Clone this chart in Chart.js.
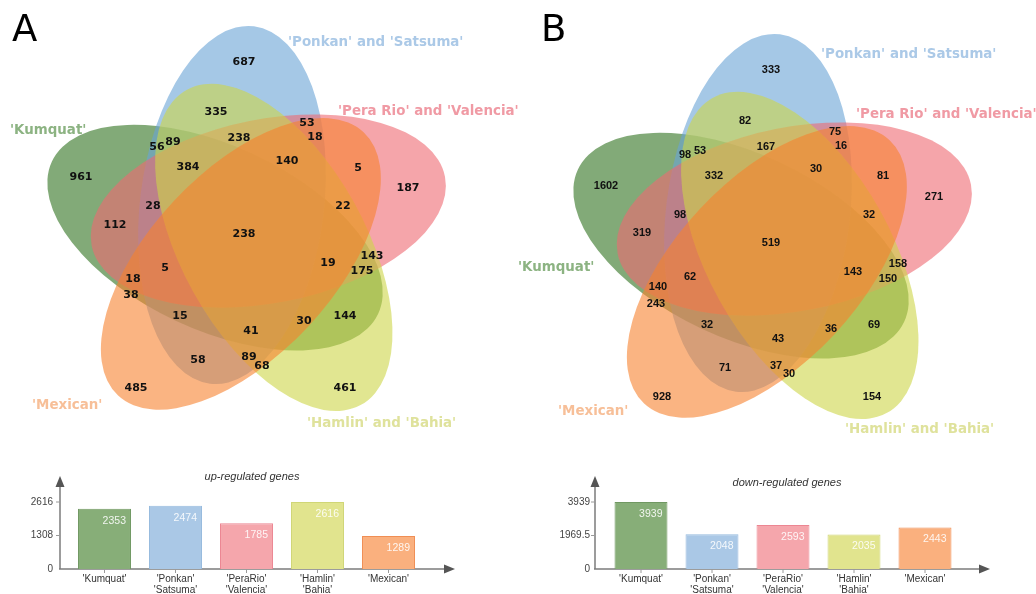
<!DOCTYPE html>
<html><head><meta charset="utf-8">
<script src="https://cdn.jsdelivr.net/npm/chart.js@4.4.1/dist/chart.umd.min.js"></script>
<style>
html,body{margin:0;padding:0;background:#fff;width:1036px;height:594px;overflow:hidden;}
canvas{position:absolute;display:block;}
#venn{left:0;top:0;}
#barA{left:0;top:455px;}
#barB{left:518px;top:455px;}
</style></head><body>
<canvas id="venn" width="1036" height="455" style="width:1036px;height:455px"></canvas>
<canvas id="barA" width="518" height="139" style="width:518px;height:139px"></canvas>
<canvas id="barB" width="518" height="139" style="width:518px;height:139px"></canvas>
<script>
// ---------------- DATA ----------------
const setNames = ["'Kumquat'", "'Ponkan' and 'Satsuma'", "'Pera Rio' and 'Valencia'", "'Hamlin' and 'Bahia'", "'Mexican'"];
const barCategories = [["'Kumquat'"], ["'Ponkan'", "'Satsuma'"], ["'PeraRio'", "'Valencia'"], ["'Hamlin'", "'Bahia'"], ["'Mexican'"]];
const upTotals = [2353, 2474, 1785, 2616, 1289];
const downTotals = [3939, 2048, 2593, 2035, 2443];
const upTicks = [0, 1308, 2616];
const downTicks = [0, 1969.5, 3939];
// Venn region counts (same region order in both panels)
const upRegionCounts = [687, 335, 53, 18, 56, 89, 238, 384, 140, 5, 961, 187, 28, 22, 112, 238, 143, 19, 175, 5, 18, 38, 15, 41, 30, 144, 58, 89, 68, 485, 461];
const downRegionCounts = [333, 82, 75, 16, 98, 53, 167, 30, 332, 81, 1602, 271, 98, 32, 319, 519, 158, 143, 150, 62, 140, 243, 32, 36, 69, 43, 71, 37, 30, 928, 154];

// ---------------- LAYOUT ----------------
const upRegionPos = [[244,62],[216,112],[307,123],[315,137],[157,147],[173,142],[239,138],[188,167],[287,161],[358,168],[81,177],[408,188],[153,206],[343,206],[115,225],[244,234],[372,256],[328,263],[362,271],[165,268],[133,279],[131,295],[180,316],[251,331],[304,321],[345,316],[198,360],[249,357],[262,366],[136,388],[345,388]];
const downRegionPos = [[771,70],[745,121],[835,132],[841,146],[685,155],[700,151],[766,147],[816,169],[714,176],[883,176],[606,186],[934,197],[680,215],[869,215],[642,233],[771,243],[898,264],[853,272],[888,279],[690,277],[658,287],[656,304],[707,325],[831,329],[874,325],[778,339],[725,368],[776,366],[789,374],[662,397],[872,397]];
const setLabelPos = [
  [[10,131],[288,43],[338,112],[307,424],[32,406]],
  [[518,268],[821,55],[856,115],[845,430],[558,412]]
];
const panelCenters = [[246,233],[772,241]];
const vennGeom = { a: 180, b: 92, baseAngle: -83, offset: [-14, -28] };
const rotIndex = [4, 0, 1, 2, 3]; // rotation step (x72deg) of each set's ellipse
const vennFill = ['rgba(47,113,30,0.6)','rgba(105,163,213,0.6)','rgba(238,105,113,0.6)','rgba(205,213,72,0.6)','rgba(247,130,47,0.6)'];
const labelColors = ['#8cb382','#abc9e7','#f09aa4','#dfe29c','#f7bf98'];
const barFill = ['rgb(135,174,120)','rgb(170,200,230)','rgb(245,166,172)','rgb(225,228,142)','rgb(250,176,126)'];
const barBorder = ['rgb(112,152,98)','rgb(150,186,222)','rgb(236,134,146)','rgb(208,214,118)','rgb(240,142,84)'];

// ---------------- VENN ----------------
const vennPlugin = {
  id: 'vennPlugin',
  beforeDatasetsDraw(chart) {
    const ctx = chart.ctx, xs = chart.scales.x, ys = chart.scales.y;
    const sx = xs.getPixelForValue(1) - xs.getPixelForValue(0);
    const sy = ys.getPixelForValue(1) - ys.getPixelForValue(0);
    ctx.save();
    panelCenters.forEach((c, p) => {
      for (let k = 0; k < 5; k++) {
        const t = rotIndex[k] * 72 * Math.PI / 180;
        const [vx, vy] = vennGeom.offset;
        const ex = c[0] + vx * Math.cos(t) - vy * Math.sin(t);
        const ey = c[1] + vx * Math.sin(t) + vy * Math.cos(t);
        const rot = (vennGeom.baseAngle + rotIndex[k] * 72) * Math.PI / 180;
        ctx.beginPath();
        ctx.ellipse(xs.getPixelForValue(ex), ys.getPixelForValue(ey), vennGeom.a * Math.abs(sx), vennGeom.b * Math.abs(sy), rot, 0, Math.PI * 2);
        ctx.fillStyle = vennFill[k];
        ctx.fill();
      }
      // set names
      ctx.font = 'bold 13.4px "DejaVu Sans"';
      ctx.textBaseline = 'middle';
      ctx.textAlign = 'left';
      setLabelPos[p].forEach((lp, k) => {
        ctx.fillStyle = labelColors[k];
        ctx.fillText(setNames[k], xs.getPixelForValue(lp[0]), ys.getPixelForValue(lp[1]));
      });
    });
    // panel letters
    ctx.fillStyle = '#000';
    ctx.font = '37px "DejaVu Sans"';
    ctx.textBaseline = 'alphabetic';
    ctx.fillText('A', 12, 41);
    ctx.fillText('B', 541, 41);
    ctx.restore();
  },
  afterDatasetsDraw(chart) {
    const ctx = chart.ctx;
    ctx.save();
    ctx.textAlign = 'center';
    ctx.textBaseline = 'middle';
    ctx.fillStyle = '#111';
    chart.data.datasets.forEach((ds, di) => {
      ctx.font = di === 0 ? 'bold 11px "DejaVu Sans"' : 'bold 11px "Liberation Sans"';
      chart.getDatasetMeta(di).data.forEach((pt, i) => {
        ctx.fillText(String(ds.counts[i]), pt.x, pt.y);
      });
    });
    ctx.restore();
  }
};

new Chart(document.getElementById('venn'), {
  type: 'scatter',
  data: {
    datasets: [
      { data: upRegionPos.map(p => ({x: p[0], y: p[1]})), counts: upRegionCounts, pointRadius: 0 },
      { data: downRegionPos.map(p => ({x: p[0], y: p[1]})), counts: downRegionCounts, pointRadius: 0 }
    ]
  },
  options: {
    responsive: false, animation: false, events: [],
    layout: { padding: 0 },
    plugins: { legend: { display: false }, tooltip: { enabled: false } },
    scales: {
      x: { type: 'linear', min: 0, max: 1036, display: false },
      y: { type: 'linear', min: 0, max: 455, reverse: true, display: false }
    }
  },
  plugins: [vennPlugin]
});

// ---------------- BARS ----------------
const axisPlugin = {
  id: 'axisPlugin',
  beforeDatasetsDraw(chart, args, o) {
    const ctx = chart.ctx, ys = chart.scales.y;
    const yb = ys.getPixelForValue(0);
    ctx.save();
    ctx.strokeStyle = '#7c7c7c';
    ctx.lineWidth = 1.5;
    ctx.beginPath();
    ctx.moveTo(o.axisX, yb); ctx.lineTo(o.axisX, o.arrowTop + 6);
    ctx.moveTo(o.axisX - 1, yb); ctx.lineTo(o.arrowRight - 6, yb);
    ctx.stroke();
    ctx.lineWidth = 1;
    ctx.strokeStyle = '#9a9a9a';
    ys.ticks.forEach(t => {
      const y = ys.getPixelForValue(t.value);
      if (t.value === 0) return;
      ctx.beginPath(); ctx.moveTo(o.axisX - 4, y); ctx.lineTo(o.axisX, y); ctx.stroke();
    });
    chart.getDatasetMeta(0).data.forEach(b => {
      ctx.beginPath(); ctx.moveTo(b.x, yb); ctx.lineTo(b.x, yb + 4); ctx.stroke();
    });
    ctx.fillStyle = '#555';
    ctx.beginPath();
    ctx.moveTo(o.axisX, o.arrowTop - 2); ctx.lineTo(o.axisX - 4.5, o.arrowTop + 9); ctx.lineTo(o.axisX + 4.5, o.arrowTop + 9); ctx.closePath(); ctx.fill();
    ctx.beginPath();
    ctx.moveTo(o.arrowRight + 2, yb); ctx.lineTo(o.arrowRight - 9, yb - 4.5); ctx.lineTo(o.arrowRight - 9, yb + 4.5); ctx.closePath(); ctx.fill();
    ctx.fillStyle = '#333';
    ctx.font = 'italic 11px "Liberation Sans"';
    ctx.textAlign = 'center';
    ctx.textBaseline = 'middle';
    ctx.fillText(o.title, o.titleX, o.titleY);
    ctx.restore();
  },
  afterDatasetsDraw(chart) {
    const ctx = chart.ctx, ds = chart.data.datasets[0];
    ctx.save();
    ctx.fillStyle = 'rgba(255,255,255,0.88)';
    ctx.font = '10.5px "Liberation Sans"';
    ctx.textAlign = 'right';
    ctx.textBaseline = 'middle';
    chart.getDatasetMeta(0).data.forEach((b, i) => {
      ctx.fillText(String(ds.data[i]), b.x + b.width / 2 - 5, b.y + 12);
    });
    ctx.restore();
  }
};

function makeBar(id, values, ticks, max, cfg) {
  return new Chart(document.getElementById(id), {
    type: 'bar',
    data: {
      labels: barCategories,
      datasets: [{
        data: values,
        backgroundColor: barFill,
        borderColor: barBorder,
        borderWidth: 1,
        barPercentage: 0.746,
        categoryPercentage: 1
      }]
    },
    options: {
      responsive: false, animation: false, events: [],
      layout: { padding: { top: 23, left: 0, right: cfg.padRight, bottom: 0 } },
      plugins: { legend: { display: false }, tooltip: { enabled: false }, title: { display: false }, axisPlugin: cfg.axis },
      scales: {
        x: {
          type: 'category',
          grid: { display: false, drawTicks: false },
          border: { display: false },
          ticks: { font: { family: 'Liberation Sans', size: 10, lineHeight: 1.1 }, color: '#333', padding: 5, maxRotation: 0, autoSkip: false },
          afterFit: s => { s.height = 25; }
        },
        y: {
          min: 0, max: max,
          grid: { display: false, drawTicks: false },
          border: { display: false },
          afterBuildTicks: s => { s.ticks = ticks.map(v => ({ value: v })); },
          ticks: { font: { family: 'Liberation Sans', size: 10 }, color: '#444', padding: cfg.tickPad, callback: v => String(v) },
          afterFit: s => { s.width = cfg.axisWidth; }
        }
      }
    },
    plugins: [axisPlugin]
  });
}

makeBar('barA', upTotals, upTicks, 2616 * 91 / 67, {
  padRight: 94, axisWidth: 69, tickPad: 16,
  axis: { axisX: 60, arrowTop: 23, arrowRight: 453, title: 'up-regulated genes', titleX: 252, titleY: 22 }
});
makeBar('barB', downTotals, downTicks, 3939 * 91 / 67, {
  padRight: 75.5, axisWidth: 87.5, tickPad: 15.5,
  axis: { axisX: 77, arrowTop: 23, arrowRight: 470, title: 'down-regulated genes', titleX: 269, titleY: 28 }
});
</script>
</body></html>
